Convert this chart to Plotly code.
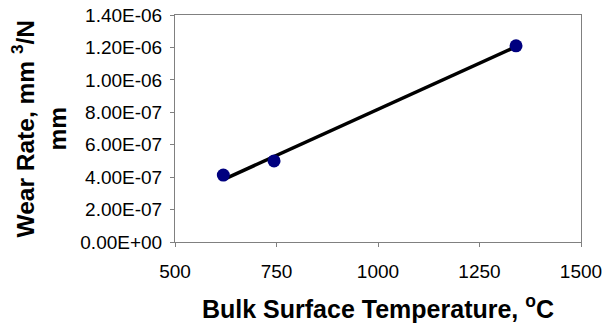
import plotly.graph_objects as go

# Data
temperature = [619, 744, 1340]
wear_rate = [4.13e-7, 5.0e-7, 1.21e-6]

# Linear trendline endpoints (as drawn in the reference)
trend_x = [619, 1340]
trend_y = [3.85e-7, 1.205e-6]

y_tick_vals = [0, 2e-7, 4e-7, 6e-7, 8e-7, 1.0e-6, 1.2e-6, 1.4e-6]
y_tick_text = ["0.00E+00", "2.00E-07", "4.00E-07", "6.00E-07",
               "8.00E-07", "1.00E-06", "1.20E-06", "1.40E-06"]
x_tick_vals = [500, 750, 1000, 1250, 1500]
x_tick_text = ["500", "750", "1000", "1250", "1500"]

FONT = "Liberation Sans, Arial, sans-serif"
AXIS_GRAY = "#808080"

fig = go.Figure()
fig.add_trace(go.Scatter(x=trend_x, y=trend_y, mode="lines",
                         line=dict(color="black", width=3.5),
                         showlegend=False, hoverinfo="skip"))
fig.add_trace(go.Scatter(x=temperature, y=wear_rate, mode="markers",
                         marker=dict(color="#00007F", size=13),
                         showlegend=False))

fig.update_layout(
    width=602, height=327,
    margin=dict(l=175, r=21, t=15, b=85),
    paper_bgcolor="white", plot_bgcolor="white",
    font=dict(family=FONT, color="black"),
    xaxis=dict(range=[500, 1500], tickvals=x_tick_vals, ticktext=x_tick_text,
               ticks="outside", ticklen=4, tickcolor=AXIS_GRAY,
               showline=True, linecolor=AXIS_GRAY, linewidth=1, mirror=True,
               showgrid=False, zeroline=False, automargin=False,
               ticklabelstandoff=8, ticklabeloverflow="allow",
               tickfont=dict(size=19, family=FONT, color="black")),
    yaxis=dict(range=[0, 1.4e-6], tickvals=y_tick_vals, ticktext=y_tick_text,
               ticks="outside", ticklen=4, tickcolor=AXIS_GRAY,
               showline=True, linecolor=AXIS_GRAY, linewidth=1, mirror=True,
               showgrid=False, zeroline=False, automargin=False,
               ticklabelstandoff=4, ticklabeloverflow="allow",
               tickfont=dict(size=19, family=FONT, color="black")),
    annotations=[
        dict(text="<b>Bulk Surface Temperature, <sup>o</sup>C</b>",
             xref="paper", yref="paper", x=0.5, y=-0.208,
             xanchor="center", yanchor="top", showarrow=False,
             font=dict(size=25, family=FONT, color="black")),
        dict(text="<b>Wear Rate, mm <sup>3</sup>/N<br>mm</b>",
             xref="paper", yref="paper", x=-0.335, y=0.5,
             xanchor="center", yanchor="middle", showarrow=False,
             textangle=-90, align="center",
             font=dict(size=24.5, family=FONT, color="black")),
    ],
)

# Remove the page's default body margin so the figure fills the window.
fig.write_html("out.html",
               config={"displayModeBar": False},
               post_script="document.body.style.margin='0px';")
